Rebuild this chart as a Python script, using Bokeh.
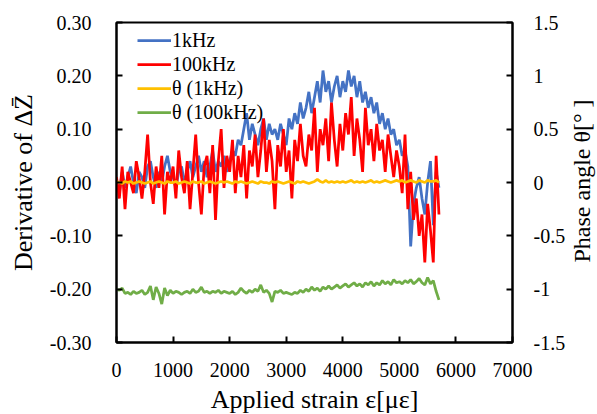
import math
from bokeh.plotting import figure
from bokeh.models import Range1d, LinearAxis, FixedTicker, Legend, LegendItem, Label
from bokeh.embed import file_html
from bokeh.resources import INLINE

# ---------------- data ----------------
strain = list(range(0, 5701, 50))   # applied strain [micro-strain], sample grid

d_1khz = [
    0.00, -0.02, 0.02, -0.01, 0.01, 0.03, 0.00, -0.02, 0.02, 0.01,
    -0.01, 0.03, 0.04, 0.01, -0.01, 0.02, 0.00, 0.03, 0.05, 0.02,
    0.01, -0.01, 0.02, 0.03, 0.00, 0.02, 0.04, 0.01, 0.03, 0.05,
    0.02, 0.04, 0.01, 0.03, 0.06, 0.02, 0.04, 0.03, 0.05, 0.02,
    0.04, 0.06, 0.05, 0.08, 0.07, 0.10, 0.13, 0.08, 0.11, 0.09,
    0.07, 0.10, 0.12, 0.08, 0.11, 0.09, 0.10, 0.08, 0.11, 0.09,
    0.07, 0.12, 0.10, 0.13, 0.11, 0.15, 0.12, 0.14, 0.17, 0.13,
    0.16, 0.19, 0.15, 0.21, 0.17, 0.19, 0.15, 0.18, 0.20, 0.16,
    0.19, 0.17, 0.21, 0.18, 0.20, 0.16, 0.19, 0.15, 0.17, 0.14,
    0.16, 0.13, 0.15, 0.11, 0.13, 0.10, 0.12, 0.09, 0.10, 0.07,
    0.08, 0.05, 0.06, 0.03, -0.12, -0.04, -0.01, 0.01, -0.03, -0.06,
    0.00, 0.04, -0.08, 0.02, -0.01,
]

d_100khz = [
    0.01, -0.03, 0.03, -0.05, 0.02, 0.00, -0.02, 0.04, 0.01, -0.03,
    0.02, 0.09, 0.00, -0.04, 0.03, -0.01, 0.05, -0.06, 0.02, 0.00,
    0.03, -0.03, 0.06, 0.01, -0.02, 0.04, -0.05, 0.02, 0.09, 0.00,
    -0.06, 0.03, 0.05, -0.02, 0.07, -0.07, 0.04, 0.10, -0.01, 0.05,
    0.02, 0.08, -0.02, 0.05, 0.01, 0.07, -0.03, 0.06, 0.03, 0.09,
    0.01, 0.06, 0.12, 0.02, 0.08, 0.04, -0.05, 0.07, 0.03, 0.10,
    0.02, 0.06, -0.03, 0.08, 0.04, 0.11, 0.05, 0.03, 0.09, 0.06,
    0.14, 0.02, 0.10, 0.07, 0.12, 0.04, 0.15, 0.08, 0.03, 0.11,
    0.06, 0.13, 0.09, 0.16, 0.05, 0.12, 0.08, 0.02, 0.14, 0.07,
    0.10, 0.04, 0.11, 0.06, 0.08, 0.02, 0.09, 0.05, 0.01, 0.06,
    0.03, -0.02, 0.09, -0.05, 0.02, -0.07, -0.03, -0.10, -0.06, -0.15,
    -0.04, -0.09, -0.15, 0.05, -0.06,
]

theta_1khz = [
    0.01, 0.00, -0.01, 0.01, 0.00, 0.01, -0.01, 0.00, 0.01, 0.00,
    -0.01, 0.00, 0.01, -0.01, 0.00, 0.01, 0.00, -0.01, 0.01, 0.00,
    0.00, 0.01, -0.01, 0.00, 0.01, 0.00, -0.01, 0.01, 0.00, 0.00,
    0.01, -0.01, 0.00, 0.01, 0.00, -0.01, 0.00, 0.01, 0.00, 0.01,
    0.00, -0.01, 0.01, 0.00, 0.01, 0.00, -0.01, 0.00, 0.01, 0.00,
    -0.01, 0.01, 0.00, 0.00, -0.01, 0.01, 0.00, 0.01, 0.00, -0.01,
    0.00, 0.01, 0.00, -0.01, 0.01, 0.00, 0.01, 0.00, -0.01, 0.00,
    0.01, 0.03, 0.01, 0.00, 0.02, 0.00, 0.01, 0.00, 0.01, 0.00,
    0.01, 0.00, 0.01, 0.02, 0.00, 0.01, 0.00, 0.01, 0.00, 0.01,
    0.02, 0.00, 0.01, 0.00, 0.01, 0.02, 0.01, 0.00, 0.01, 0.02,
    0.01, 0.02, 0.00, 0.01, 0.02, 0.01, 0.00, 0.02, 0.01, 0.00,
    0.02, 0.01, 0.01, 0.02, 0.00,
]

theta_100khz = [
    -1.00, -1.01, -0.99, -1.04, -1.03, -1.05, -1.02, -1.04, -1.03, -1.01,
    -1.05, -1.03, -0.97, -1.10, -0.98, -1.04, -1.14, -0.99, -1.06, -1.01,
    -1.04, -1.02, -1.03, -1.05, -1.03, -1.02, -1.04, -1.00, -1.03, -1.02,
    -0.98, -1.03, -1.02, -1.04, -1.02, -1.03, -1.01, -1.04, -1.02, -1.03,
    -1.04, -1.02, -1.05, -1.03, -0.99, -1.02, -1.04, -1.01, -1.03, -1.00,
    -1.02, -0.96, -1.03, -1.01, -1.04, -1.12, -1.02, -1.03, -1.01, -1.04,
    -1.03, -1.04, -1.05, -1.03, -1.04, -1.01, -1.03, -1.00, -1.02, -0.98,
    -1.01, -0.99, -1.02, -0.98, -1.00, -0.97, -1.00, -0.98, -0.96, -0.99,
    -0.97, -0.95, -0.98, -0.96, -0.94, -0.97, -0.95, -0.98, -0.94, -0.96,
    -0.93, -0.97, -0.94, -0.96, -0.92, -0.95, -0.93, -0.96, -0.91, -0.94,
    -0.93, -0.95, -0.92, -0.94, -0.91, -0.95, -0.93, -0.90, -0.94, -0.96,
    -0.89, -0.95, -0.92, -1.02, -1.10,
]

series_labels = ["1kHz", "100kHz", "\u03b8 (1kHz)", "\u03b8 (100kHz)"]

x_title = "Applied strain \u03b5[\u03bc\u03b5]"
left_title = "Derivative of \u0394Z\u0304"
right_title = "Phase angle \u03b8[\u00b0  ]"

x_ticks = [0, 1000, 2000, 3000, 4000, 5000, 6000, 7000]
left_ticks = [-0.3, -0.2, -0.1, 0.0, 0.1, 0.2, 0.3]
left_tick_labels = ["-0.30", "-0.20", "-0.10", "0.00", "0.10", "0.20", "0.30"]
right_ticks = [-1.5, -1.0, -0.5, 0.0, 0.5, 1.0, 1.5]
right_tick_labels = ["-1.5", "-1", "-0.5", "0", "0.5", "1", "1.5"]

# ---------------- styling ----------------
FONT = "'Liberation Serif', 'Times New Roman', serif"
BLUE, RED, YELLOW, GREEN = "#4472C4", "#FF0000", "#FFC000", "#70AD47"
LW = 2.75

p = figure(width=597, height=414, output_backend="svg", toolbar_location=None,
           x_range=Range1d(0, 7000), y_range=Range1d(-0.3, 0.3),
           min_border_left=116, min_border_right=85, min_border_top=22,
           min_border_bottom=72, background_fill_color="white",
           border_fill_color="white")
p.extra_y_ranges = {"theta": Range1d(-1.5, 1.5)}
p.xgrid.visible = False
p.ygrid.visible = False
p.outline_line_color = "black"
p.outline_line_width = 2
p.outline_line_alpha = 1

right_axis = LinearAxis(y_range_name="theta")
p.add_layout(right_axis, "right")

p.xaxis.ticker = FixedTicker(ticks=x_ticks)
p.yaxis[0].ticker = FixedTicker(ticks=left_ticks)
p.yaxis[0].major_label_overrides = {t: s for t, s in zip(left_ticks, left_tick_labels)}
right_axis.ticker = FixedTicker(ticks=right_ticks)
right_axis.major_label_overrides = {t: s for t, s in zip(right_ticks, right_tick_labels)}

for ax in [p.xaxis[0], p.yaxis[0], right_axis]:
    ax.major_tick_in = 6
    ax.major_tick_out = 0
    ax.minor_tick_in = 0
    ax.minor_tick_out = 0
    ax.axis_line_width = 2
    ax.axis_line_color = "black"
    ax.major_tick_line_width = 2
    ax.major_tick_line_color = "black"
    ax.major_label_text_font = FONT
    ax.major_label_text_font_style = "normal"
    ax.major_label_text_font_size = "20px"
    ax.major_label_text_color = "black"
    ax.axis_label_text_font = FONT
    ax.axis_label_text_font_style = "normal"
    ax.axis_label_text_color = "black"

p.xaxis[0].major_label_standoff = 20

p.yaxis[0].axis_label = left_title
p.yaxis[0].axis_label_text_font_size = "26px"
p.yaxis[0].major_label_standoff = 25
p.yaxis[0].axis_label_standoff = 9

right_axis.major_label_standoff = 21

r1 = p.line(strain, d_1khz, line_color=BLUE, line_width=LW)
r2 = p.line(strain, d_100khz, line_color=RED, line_width=LW)
r3 = p.line(strain, theta_1khz, line_color=YELLOW, line_width=LW, y_range_name="theta")
r4 = p.line(strain, theta_100khz, line_color=GREEN, line_width=LW, y_range_name="theta")

legend = Legend(items=[LegendItem(label=lab, renderers=[r])
                       for lab, r in zip(series_labels, [r1, r2, r3, r4])],
                location=(21, 218), margin=0, padding=0, spacing=0,
                glyph_width=34, glyph_height=24, label_height=24,
                label_standoff=1, label_text_font=FONT,
                label_text_font_style="normal",
                label_text_font_size="20px", label_text_color="black",
                background_fill_alpha=0, border_line_alpha=0)
p.add_layout(legend)


# axis titles placed as labels in the side panels
def dx(px):  # canvas pixel -> strain coordinate
    return (px - 116) / 396 * 7000


def dy(py):  # canvas pixel -> left-axis coordinate
    return 0.30 - (py - 22) * 0.60 / 320


bottom_label = Label(x=dx(314), y=dy(399), text=x_title,
                     text_font=FONT, text_font_size="26px", text_color="black",
                     text_align="center", text_baseline="middle")
p.add_layout(bottom_label, "below")

right_label = Label(x=dx(581), y=dy(262), text=right_title, angle=math.pi / 2,
                    text_font=FONT, text_font_size="24px", text_color="black",
                    text_align="left", text_baseline="middle")
p.add_layout(right_label, "right")

open("out.html", "w").write(file_html(p, INLINE))
